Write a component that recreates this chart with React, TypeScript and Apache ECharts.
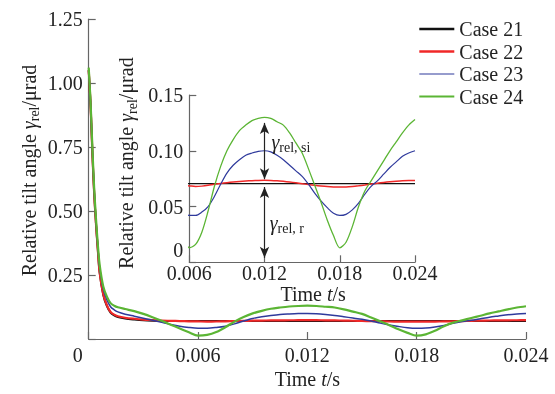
import React, { useEffect, useRef } from 'react';
import * as echarts from 'echarts';

const FONT = 'Liberation Serif';
const TEXT = '#222';
const AXIS = '#666';

// time (s)
const time = [
  0, 0.0001, 0.0002, 0.0003, 0.0004, 0.0005, 0.0006, 0.0008, 0.001, 0.0012,
  0.0014, 0.0016, 0.002, 0.0025, 0.003, 0.0035, 0.004, 0.0045, 0.005, 0.0055,
  0.006, 0.0065, 0.007, 0.0075, 0.008, 0.0085, 0.009, 0.0095, 0.01, 0.0105,
  0.011, 0.0115, 0.012, 0.0125, 0.013, 0.0135, 0.014, 0.0145, 0.015, 0.0155,
  0.016, 0.0165, 0.017, 0.0175, 0.018, 0.0185, 0.019, 0.0195, 0.02, 0.0205,
  0.021, 0.0215, 0.022, 0.0225, 0.023, 0.0235, 0.024,
];

const case21 = [
  1.05, 0.92, 0.73, 0.57, 0.45, 0.35, 0.26, 0.172, 0.128, 0.103,
  0.092, 0.086, 0.08, 0.076, 0.073, 0.0715, 0.0708, 0.0705, 0.0705, 0.0705,
  0.0705, 0.0705, 0.0705, 0.0705, 0.0705, 0.0705, 0.0705, 0.0705, 0.0705, 0.0705,
  0.0705, 0.0705, 0.0705, 0.0705, 0.0705, 0.0705, 0.0705, 0.0705, 0.0705, 0.0705,
  0.0705, 0.0705, 0.0705, 0.0705, 0.0705, 0.0705, 0.0705, 0.0705, 0.0705, 0.0705,
  0.0705, 0.0705, 0.0705, 0.0705, 0.0705, 0.0705, 0.0705,
];

const case22 = [
  1.05, 0.92, 0.73, 0.57, 0.45, 0.35, 0.26, 0.175, 0.132, 0.106,
  0.095, 0.089, 0.083, 0.079, 0.076, 0.074, 0.072, 0.071, 0.07, 0.069,
  0.0685, 0.068, 0.0683, 0.069, 0.07, 0.0707, 0.0714, 0.072, 0.0725, 0.0729,
  0.0732, 0.0734, 0.0735, 0.0734, 0.0731, 0.0726, 0.072, 0.0713, 0.0705, 0.0697,
  0.069, 0.0684, 0.0679, 0.0676, 0.0675, 0.0676, 0.068, 0.0686, 0.0693, 0.0701,
  0.0709, 0.0716, 0.0722, 0.0727, 0.0731, 0.0733, 0.0734,
];

const case23 = [
  1.05, 0.92, 0.74, 0.58, 0.46, 0.36, 0.28, 0.195, 0.152, 0.126,
  0.114, 0.106, 0.097, 0.089, 0.081, 0.073, 0.065, 0.057, 0.05, 0.045,
  0.042, 0.042, 0.045, 0.05, 0.059, 0.07, 0.08, 0.087, 0.092, 0.096,
  0.098, 0.0995, 0.1, 0.099, 0.096, 0.092, 0.087, 0.082, 0.077, 0.07,
  0.062, 0.055, 0.049, 0.044, 0.042, 0.043, 0.047, 0.053, 0.061, 0.068,
  0.073, 0.079, 0.085, 0.09, 0.095, 0.098, 0.1,
];

const case24 = [
  1.06, 0.93, 0.75, 0.59, 0.47, 0.37, 0.29, 0.205, 0.165, 0.14,
  0.13, 0.124, 0.117, 0.109, 0.098, 0.085, 0.071, 0.056, 0.041, 0.026,
  0.013, 0.016, 0.027, 0.046, 0.068, 0.086, 0.1, 0.11, 0.118, 0.123,
  0.127, 0.129, 0.13, 0.129, 0.126, 0.123, 0.116, 0.107, 0.098, 0.084,
  0.069, 0.054, 0.038, 0.024, 0.013, 0.018, 0.032, 0.05, 0.064, 0.073,
  0.082, 0.091, 0.1, 0.108, 0.116, 0.123, 0.128,
];

const caseNames = ['Case 21', 'Case 22', 'Case 23', 'Case 24'];
const caseValues = [case21, case22, case23, case24];
const caseColors = ['#111111', '#f02828', '#2f3a9c', '#5bb534'];
const mainWidths = [2, 2.2, 1.5, 2.2];
const insetWidths = [1.3, 1.5, 1.2, 1.3];
const legendWidths = [2.5, 2.6, 1.2, 2];

const mainXTicks = { min: 0, max: 0.024, interval: 0.006 };
const mainYTicks = { min: 0, max: 1.25, interval: 0.25 };
const insetXTicks = { min: 0.006, max: 0.024, interval: 0.006 };
const insetYTicks = { min: 0, max: 0.15, interval: 0.05 };

// annotation positions (data coordinates of inset)
const arrowX = 0.012;
const arrowSi = [0.125, 0.0745];
const arrowR = [0.0675, 0.004];
const labelSi = [0.01255, 0.108];
const labelR = [0.01241, 0.0353];

const baseText = { fontFamily: FONT, fontSize: 20, color: TEXT };

const subRich = {
  g: { fontFamily: FONT, fontSize: 20, color: TEXT, fontStyle: 'italic', lineHeight: 26 },
  s: { fontFamily: FONT, fontSize: 14, color: TEXT, lineHeight: 14, verticalAlign: 'bottom' },
  i: { fontFamily: FONT, fontSize: 20, color: TEXT, fontStyle: 'italic' },
  z: { fontFamily: FONT, fontSize: 20, color: TEXT },
};

function axisCommon() {
  return {
    nameMoveOverlap: false,
    axisLine: { show: true, lineStyle: { color: AXIS, width: 1.2 } },
    axisTick: { show: true, inside: true, length: 7, lineStyle: { color: AXIS, width: 1.2 } },
    splitLine: { show: false },
  };
}

export default function App() {
  const ref = useRef<HTMLDivElement>(null);
  useEffect(() => {
    if (!ref.current) return;
    const chart = echarts.init(ref.current, null, { renderer: 'svg' });

    const mainSeries = caseNames.map((name, k) => ({
      name,
      type: 'line',
      xAxisIndex: 0,
      yAxisIndex: 0,
      data: time.map((t, i) => [t, caseValues[k][i]]),
      showSymbol: false,
      symbol: 'none',
      smooth: 0.3,
      lineStyle: { color: caseColors[k], width: mainWidths[k] },
      itemStyle: { color: caseColors[k] },
      z: 2 + k,
    }));

    const insetSeries: any[] = caseNames.map((name, k) => ({
      name: name + ' (inset)',
      type: 'line',
      xAxisIndex: 1,
      yAxisIndex: 1,
      data: time.map((t, i) => [t, caseValues[k][i]]),
      showSymbol: false,
      symbol: 'none',
      smooth: 0.3,
      lineStyle: { color: caseColors[k], width: insetWidths[k] },
      itemStyle: { color: caseColors[k] },
      z: 2 + k,
    }));

    insetSeries[0].markLine = {
      silent: true,
      animation: false,
      symbol: ['arrow', 'arrow'],
      symbolSize: [7, 11],
      lineStyle: { color: '#222', width: 1.2, type: 'solid' },
      label: { show: false },
      data: [
        [{ coord: [arrowX, arrowSi[0]] }, { coord: [arrowX, arrowSi[1]] }],
        [{ coord: [arrowX, arrowR[0]] }, { coord: [arrowX, arrowR[1]] }],
      ],
    };
    insetSeries[0].markPoint = {
      silent: true,
      animation: false,
      symbol: 'circle',
      symbolSize: 0,
      itemStyle: { color: 'transparent' },
      label: {
        show: true,
        position: 'right',
        distance: 0,
        fontFamily: FONT,
        fontSize: 20,
        color: TEXT,
        rich: subRich,
      },
      data: [
        { coord: labelSi, label: { formatter: '{g|γ}{s|rel, si}' } },
        { coord: labelR, label: { formatter: '{g|γ}{s|rel, r}' } },
      ],
    };

    const option: any = {
      animation: false,
      legend: {
        data: caseNames.map((name, k) => ({
          name,
          lineStyle: { width: legendWidths[k] },
        })),
        orient: 'vertical',
        left: 418,
        top: 19,
        padding: 0,
        itemWidth: 35,
        itemHeight: 14,
        itemGap: 2.5,
        itemStyle: { opacity: 0 },
        textStyle: { fontFamily: FONT, fontSize: 20, color: TEXT, lineHeight: 20 },
      },
      grid: [
        { left: 88.7, top: 19, width: 437.3, height: 323 },
        { left: 189.3, top: 95, width: 225.7, height: 167.3 },
      ],
      xAxis: [
        {
          type: 'value',
          gridIndex: 0,
          ...mainXTicks,
          ...axisCommon(),
          axisLabel: {
            fontFamily: FONT,
            fontSize: 20,
            color: TEXT,
            margin: 6,
            formatter: (v: number) => (v === 0 ? '{z|0}' : v.toFixed(3)),
            rich: { z: { ...baseText, padding: [0, 22, 0, 0] } },
          },
          name: 'Time {i|t}/s',
          nameLocation: 'middle',
          nameGap: 30,
          nameTextStyle: { fontFamily: FONT, fontSize: 20, color: TEXT, rich: subRich },
        },
        {
          type: 'value',
          gridIndex: 1,
          ...insetXTicks,
          ...axisCommon(),
          axisLabel: {
            fontFamily: FONT,
            fontSize: 20,
            color: TEXT,
            margin: 1,
            formatter: (v: number) => v.toFixed(3),
          },
          name: 'Time {i|t}/s',
          nameLocation: 'middle',
          nameGap: 22,
          nameTextStyle: { fontFamily: FONT, fontSize: 20, color: TEXT, padding: [0, 0, 0, 22], rich: subRich },
        },
      ],
      yAxis: [
        {
          type: 'value',
          gridIndex: 0,
          ...mainYTicks,
          ...axisCommon(),
          axisLabel: {
            fontFamily: FONT,
            fontSize: 20,
            color: TEXT,
            margin: 6,
            formatter: (v: number) => (v === 0 ? '' : v.toFixed(2)),
          },
          name: 'Relative tilt angle {g|γ}{s|rel}/μrad',
          nameLocation: 'middle',
          nameGap: 47,
          nameTextStyle: { fontFamily: FONT, fontSize: 20, color: TEXT, lineHeight: 26, padding: [0, 0, 0, 17], rich: subRich },
        },
        {
          type: 'value',
          gridIndex: 1,
          ...insetYTicks,
          ...axisCommon(),
          axisLabel: {
            fontFamily: FONT,
            fontSize: 20,
            color: TEXT,
            margin: 6,
            formatter: (v: number) => (v === 0 ? '{z|0}' : v.toFixed(2)),
            rich: { z: { ...baseText, padding: [0, 0, 24, 0] } },
          },
          name: 'Relative tilt angle {g|γ}{s|rel}/μrad',
          nameLocation: 'middle',
          nameGap: 50,
          nameTextStyle: { fontFamily: FONT, fontSize: 20, color: TEXT, lineHeight: 26, padding: [0, 0, 0, 31], rich: subRich },
        },
      ],
      series: [...mainSeries, ...insetSeries],
    };

    chart.setOption(option);
    return () => chart.dispose();
  }, []);

  return (
    <div
      ref={ref}
      style={{ position: 'fixed', left: 0, top: 0, width: 555, height: 394 }}
    />
  );
}
